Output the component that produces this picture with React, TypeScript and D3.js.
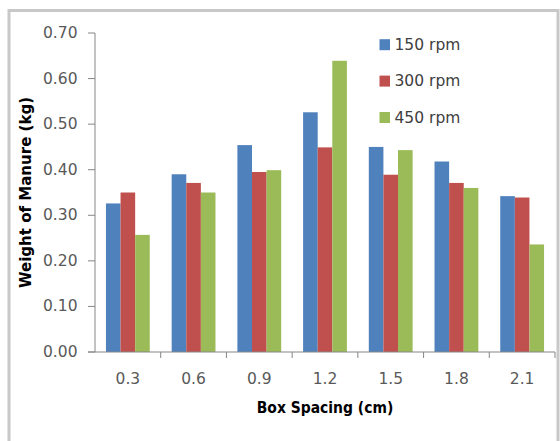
import React from "react";
import * as d3 from "d3";

const categories = ["0.3", "0.6", "0.9", "1.2", "1.5", "1.8", "2.1"];
const seriesNames = ["150 rpm", "300 rpm", "450 rpm"];
const rpm150 = [0.326, 0.39, 0.454, 0.526, 0.45, 0.418, 0.342];
const rpm300 = [0.35, 0.371, 0.395, 0.449, 0.389, 0.371, 0.339];
const rpm450 = [0.257, 0.35, 0.399, 0.639, 0.443, 0.36, 0.236];
const seriesColors = ["#4F81BD", "#C0504D", "#9BBB59"];
const yTicks = [0, 0.1, 0.2, 0.3, 0.4, 0.5, 0.6, 0.7];

const W = 560;
const H = 441;
const left = 95;
const right = 555;
const top = 33;
const bottom = 352;

export default function App() {
  const series = [rpm150, rpm300, rpm450];
  const x = d3.scaleBand<string>().domain(categories).range([left, right]).paddingInner(0).paddingOuter(0);
  const bw = x.bandwidth();
  const barW = bw / 4.5;
  const groupOffset = (bw - 3 * barW) / 2;
  const y = d3.scaleLinear().domain([0, 0.7]).range([bottom, top]);
  const font = "'DejaVu Sans', sans-serif";

  return (
    <svg
      width={W}
      height={H}
      style={{ position: "absolute", left: 0, top: 0, background: "#fff" }}
    >
      <rect x={0} y={0} width={W} height={H} fill="#fff" />
      {/* outer frame */}
      <rect x={9} y={10.5} width={549} height={H + 20} fill="none" stroke="#c8c8c8" strokeWidth={3} />

      {/* bars */}
      {categories.map((c, i) =>
        series.map((s, j) => (
          <rect
            key={`${c}-${j}`}
            x={(x(c) as number) + groupOffset + j * barW}
            y={y(s[i])}
            width={barW}
            height={bottom - y(s[i])}
            fill={seriesColors[j]}
          />
        ))
      )}

      {/* y axis */}
      <line x1={left} x2={left} y1={top} y2={bottom} stroke="#868686" strokeWidth={1} />
      {yTicks.map((t) => (
        <g key={t}>
          <line x1={left - 7} x2={left} y1={y(t)} y2={y(t)} stroke="#868686" strokeWidth={1} />
          <text
            x={77.5}
            y={y(t)}
            textAnchor="end"
            dominantBaseline="central"
            fontFamily={font}
            fontSize={15.5}
            fill="#595959"
          >
            {d3.format(".2f")(t)}
          </text>
        </g>
      ))}

      {/* x axis */}
      <line x1={left - 7} x2={right} y1={bottom} y2={bottom} stroke="#868686" strokeWidth={1} />
      {categories.map((c, i) => (
        <line
          key={`tk${c}`}
          x1={(x(c) as number) + bw}
          x2={(x(c) as number) + bw}
          y1={bottom}
          y2={bottom + 6}
          stroke="#868686"
          strokeWidth={1}
        />
      ))}
      {categories.map((c) => (
        <text
          key={`lb${c}`}
          x={(x(c) as number) + bw / 2}
          y={378.5}
          textAnchor="middle"
          dominantBaseline="central"
          fontFamily={font}
          fontSize={15.5}
          fill="#595959"
        >
          {c}
        </text>
      ))}

      {/* axis titles */}
      <text
        x={(left + right) / 2}
        y={408}
        textAnchor="middle"
        dominantBaseline="central"
        fontFamily={font}
        fontWeight="bold"
        fontSize={15.5}
        fill="#000"
        textLength={136.5}
        lengthAdjust="spacingAndGlyphs"
      >
        Box Spacing (cm)
      </text>
      <text
        transform={`translate(26,${(top + bottom) / 2}) rotate(-90)`}
        textAnchor="middle"
        dominantBaseline="central"
        fontFamily={font}
        fontWeight="bold"
        fontSize={15.5}
        fill="#000"
        textLength={191}
        lengthAdjust="spacingAndGlyphs"
      >
        Weight of Manure (kg)
      </text>

      {/* legend */}
      {seriesNames.map((n, j) => (
        <g key={n} transform={`translate(379.5,${44.7 + j * 36.4})`}>
          <rect x={0} y={-5.5} width={10.5} height={11} fill={seriesColors[j]} />
          <text
            x={15}
            y={0}
            dominantBaseline="central"
            fontFamily={font}
            fontSize={15.5}
            fill="#404040"
          >
            {n}
          </text>
        </g>
      ))}
    </svg>
  );
}
